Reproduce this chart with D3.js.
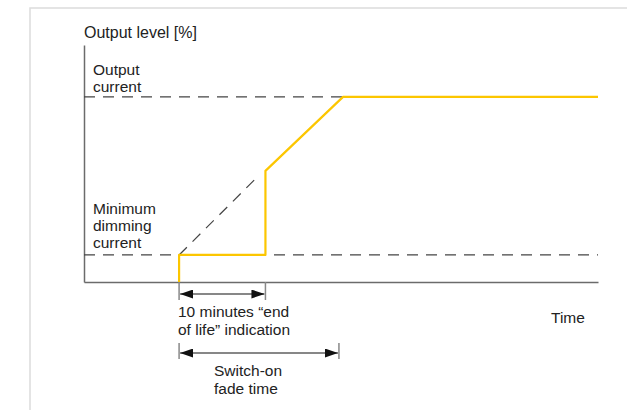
<!DOCTYPE html>
<html>
<head>
<meta charset="utf-8">
<script src="https://cdn.jsdelivr.net/npm/d3@7"></script>
<style>
  body { margin: 0; background: #fff; }
  svg text { font-family: "Liberation Sans", Arial, sans-serif; fill: #222; }
</style>
</head>
<body>
<div id="chart"></div>
<script>
// data (time in arbitrary units, level in %)
const profileTime  = [1.85, 1.85, 3.53, 3.53, 5.04, 10];
const profileLevel = [0, 14.6, 14.6, 60, 100, 100];
const idealTime  = [1.85, 3.4];
const idealLevel = [14.6, 57.5];
const refLevels = [100, 14.6];
const refLabels = [["Output", "current"], ["Minimum", "dimming", "current"]];
const spanStart = [1.85, 1.85];
const spanEnd   = [3.53, 4.96];
const spanLabels = [["10 minutes \u201Cend", "of life\u201D indication"], ["Switch-on", "fade time"]];
const yTitle = "Output level [%]";
const xTitle = "Time";

const width = 627, height = 410;
const svg = d3.select("#chart").append("svg")
  .attr("width", width)
  .attr("height", height);

// light frame at top / left
svg.append("path")
  .attr("d", "M30,410V8H627")
  .attr("fill", "none")
  .attr("stroke", "#dcdcdc")
  .attr("stroke-width", 1.5);

const x = d3.scaleLinear().domain([0, 10]).range([84, 598]);
const y = d3.scaleLinear().domain([0, 128]).range([282, 45]);

// axes, no ticks
svg.append("g")
  .attr("transform", `translate(0,${y(0)})`)
  .call(d3.axisBottom(x).tickValues([]).tickSizeOuter(0));
svg.append("g")
  .attr("transform", `translate(${x(0)},0)`)
  .call(d3.axisLeft(y).tickValues([]).tickSizeOuter(0));
svg.selectAll(".domain").attr("stroke", "#6b6b6b").attr("stroke-width", 1.5);

// reference levels
svg.selectAll(".ref")
  .data(refLevels)
  .join("line")
  .attr("class", "ref")
  .attr("x1", x(0)).attr("x2", x(10))
  .attr("y1", d => y(d)).attr("y2", d => y(d))
  .attr("stroke", "#444")
  .attr("stroke-width", 1.2)
  .attr("stroke-dasharray", "11,8");

// ideal fade (dashed)
const idealPts = idealTime.map((t, i) => [x(t), y(idealLevel[i])]);
svg.append("path")
  .attr("d", d3.line()(idealPts))
  .attr("fill", "none")
  .attr("stroke", "#444")
  .attr("stroke-width", 1.2)
  .attr("stroke-dasharray", "11,8");

// output profile
const pts = profileTime.map((t, i) => [x(t), y(profileLevel[i])]);
svg.append("path")
  .attr("d", d3.line()(pts))
  .attr("fill", "none")
  .attr("stroke", "#fcc600")
  .attr("stroke-width", 2.2)
  .attr("stroke-linejoin", "round");

// axis titles
svg.append("text").attr("x", 84).attr("y", 38)
  .attr("font-size", 16).text(yTitle);
svg.append("text").attr("x", 551).attr("y", 323)
  .attr("font-size", 15.5).text(xTitle);

// level labels
const labelBase = [75, 214];
refLabels.forEach((lines, i) => {
  const t = svg.append("text").attr("x", 93).attr("y", labelBase[i]).attr("font-size", 15.5);
  lines.forEach((s, j) => t.append("tspan").attr("x", 93).attr("dy", j ? 17 : 0).text(s));
});

// span arrows
svg.append("defs").selectAll("marker")
  .data(["start", "end"])
  .join("marker")
  .attr("id", d => "arr-" + d)
  .attr("viewBox", "0 0 13 9")
  .attr("refX", d => d === "end" ? 13 : 0)
  .attr("refY", 4.5)
  .attr("markerWidth", 13).attr("markerHeight", 9)
  .attr("markerUnits", "userSpaceOnUse")
  .attr("orient", "auto")
  .append("path")
  .attr("d", d => d === "end" ? "M0,0L13,4.5L0,9Z" : "M13,0L0,4.5L13,9Z")
  .attr("fill", "#111");

const spanY = [294, 353];
const tickTop = [282, 343];
const tickBot = [300, 359];
const textX = [178, 214];
const textY = [317, 376];

spanStart.forEach((s, i) => {
  const g = svg.append("g");
  [s, spanEnd[i]].forEach(t => {
    g.append("line")
      .attr("x1", x(t)).attr("x2", x(t))
      .attr("y1", tickTop[i]).attr("y2", tickBot[i])
      .attr("stroke", "#888").attr("stroke-width", 1.5);
  });
  g.append("line")
    .attr("x1", x(s) + 1).attr("x2", x(spanEnd[i]) - 1)
    .attr("y1", spanY[i]).attr("y2", spanY[i])
    .attr("stroke", "#111").attr("stroke-width", 1.2)
    .attr("marker-start", "url(#arr-start)")
    .attr("marker-end", "url(#arr-end)");
  const t = g.append("text").attr("x", textX[i]).attr("y", textY[i]).attr("font-size", 15.5);
  spanLabels[i].forEach((str, j) => t.append("tspan").attr("x", textX[i]).attr("dy", j ? 17.5 : 0).text(str));
});
</script>
</body>
</html>
